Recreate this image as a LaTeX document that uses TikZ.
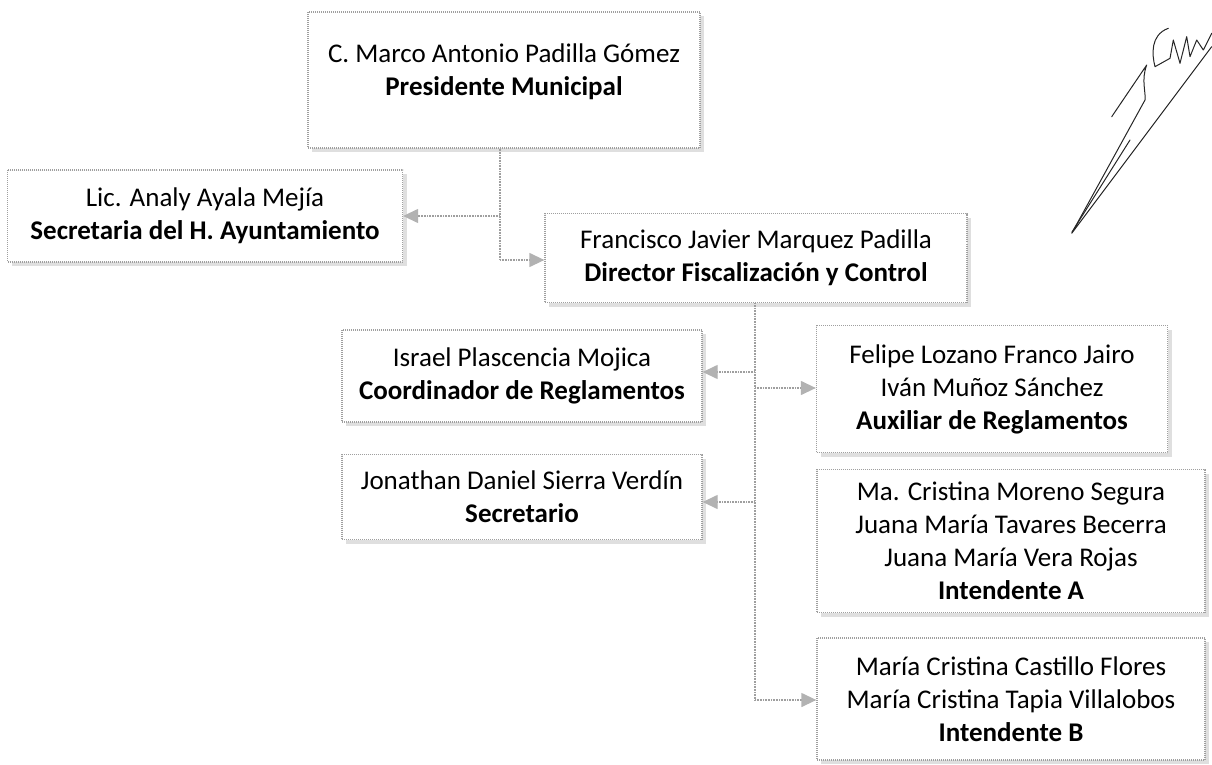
\documentclass[tikz,border=0pt]{standalone}
\usepackage{fontspec}
\setmainfont{Carlito}
\usetikzlibrary{shadows,arrows.meta}
\begin{document}
\begin{tikzpicture}[x=1pt,y=-1pt,
 orgbox/.style={draw=gray!75, dash pattern=on 1pt off 1pt, line width=1.3pt, fill=white,
   align=center, font=\fontsize{27}{33}\selectfont, inner sep=0pt, anchor=center,
   drop shadow={shadow xshift=4pt, shadow yshift=-4pt, fill=gray!50}},
 conn/.style={draw=gray!75, dash pattern=on 1pt off 0.6pt, line width=1.3pt},
 arr/.style={conn, -{Triangle[length=15pt,width=14pt,color=gray!60,fill=gray!60]}},
 sig/.style={draw=black!85, line width=1pt, line cap=round, line join=round}]
\useasboundingbox (0,0) rectangle (1212,765);

\node[orgbox, minimum width=392pt, minimum height=136pt, text depth=20pt] (pres) at (504,80)
  {C. Marco Antonio Padilla Gómez\\\textbf{Presidente Municipal}};
\node[orgbox, minimum width=395pt, minimum height=92pt] (sec) at (205,216)
  {Lic. Analy Ayala Mejía\\\textbf{Secretaria del H. Ayuntamiento}};
\node[orgbox, minimum width=422pt, minimum height=89pt] (dir) at (756,258)
  {Francisco Javier Marquez Padilla\\\textbf{Director Fiscalización y Control}};
\node[orgbox, minimum width=360pt, minimum height=92pt] (coord) at (522,376)
  {Israel Plascencia Mojica\\\textbf{Coordinador de Reglamentos}};
\node[orgbox, minimum width=360pt, minimum height=85pt] (secr) at (522,497)
  {Jonathan Daniel Sierra Verdín\\\textbf{Secretario}};
\node[orgbox, minimum width=351pt, minimum height=127pt] (aux) at (992,389)
  {Felipe Lozano Franco Jairo\\Iván Muñoz Sánchez\\\textbf{Auxiliar de Reglamentos}};
\node[orgbox, minimum width=388pt, minimum height=143pt] (intA) at (1011,541)
  {Ma. Cristina Moreno Segura\\Juana María Tavares Becerra\\Juana María Vera Rojas\\\textbf{Intendente A}};
\node[orgbox, minimum width=388pt, minimum height=122pt] (intB) at (1011,699)
  {María Cristina Castillo Flores\\María Cristina Tapia Villalobos\\\textbf{Intendente B}};

% connectors from president
\coordinate (j1) at (500,216);
\coordinate (j2) at (500,260);
\draw[conn] (pres.south -| j1) -- (j2);
\draw[arr] (j1) -- (j1 -| sec.east);
\draw[arr] (j2) -- (j2 -| dir.west);

% connectors from director
\coordinate (c1) at (755,372);
\coordinate (c2) at (755,388);
\coordinate (c3) at (755,502);
\coordinate (c4) at (755,700);
\draw[conn] (dir.south -| c4) -- (c4);
\draw[arr] (c1) -- (c1 -| coord.east);
\draw[arr] (c2) -- (c2 -| aux.west);
\draw[arr] (c3) -- (c3 -| secr.east);
\draw[arr] (c4) -- (c4 -| intB.west);

% signature
\draw[sig] (1111.7,116.7) -- (1146.7,65) .. controls (1141,80) and (1146,92) .. (1145,100)
  -- (1071.7,233.3) -- (1211.7,46.7);
\draw[sig] (1130,140) -- (1072,232);
\draw[sig] (1168.3,28.3) .. controls (1150,35) and (1152,55) .. (1155,66.7)
  -- (1170,58.3) -- (1173.3,40) -- (1180,63.3) -- (1186.7,36.7) -- (1190,56.7)
  -- (1196.7,40) -- (1203.3,50) -- (1211.7,33.3);
\end{tikzpicture}
\end{document}
